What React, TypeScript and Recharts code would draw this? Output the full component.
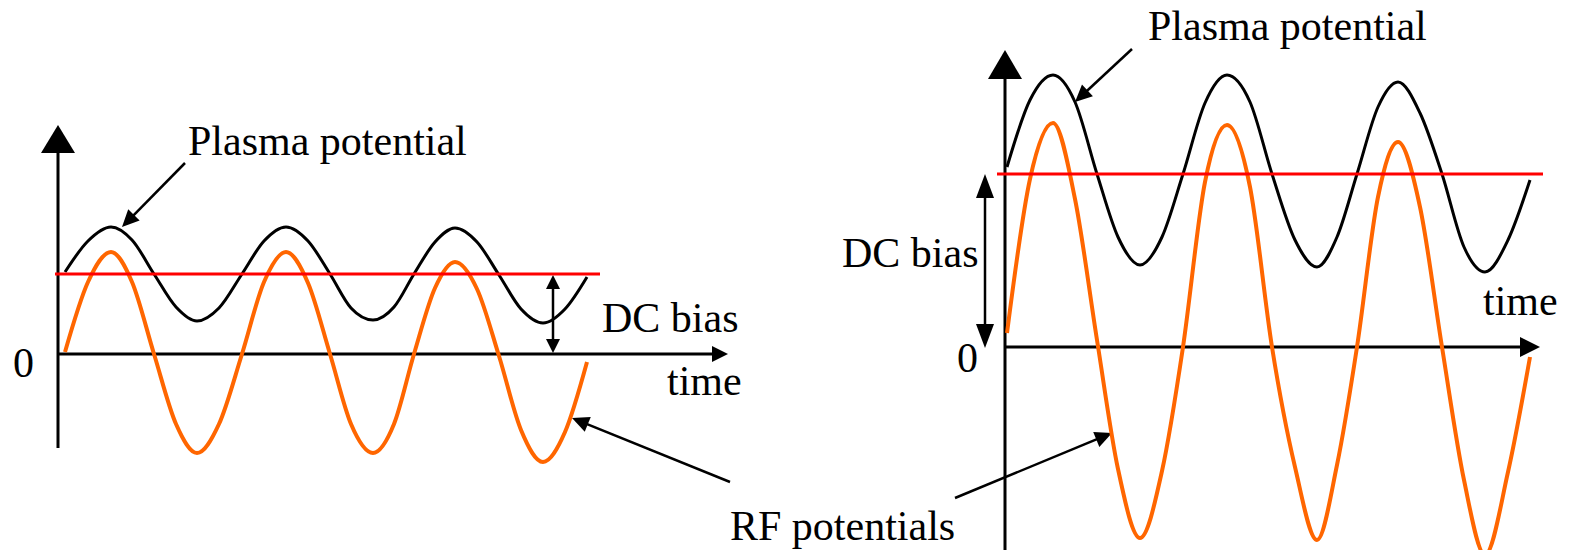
import React from "react";
import { LineChart, Line, XAxis, YAxis, ReferenceLine } from "recharts";

// Left panel: small DC bias. time and potentials (arbitrary units)
const leftTime = [7, 30, 53, 74, 96, 118, 139, 161, 184, 206, 228, 250, 272, 293, 315, 336, 356, 377, 397, 419, 441, 463, 485, 507, 529];
const leftPlasma = [82, 113, 127, 114, 80, 47, 33, 46, 80, 113, 127, 113, 80, 46, 34, 47, 80, 112, 126, 112, 79, 45, 31, 45, 77];
const leftRf = [2, 72, 102, 72, 0, -70, -99, -70, 0, 72, 102, 71, 0, -70, -99, -70, 0, 66, 92, 65, -2, -76, -108, -78, -8];
const leftBias = 80;

// Right panel: large DC bias
const rightTime = [2, 25, 48, 70, 92, 113, 135, 157, 178, 200, 222, 245, 267, 290, 312, 332, 352, 373, 393, 415, 437, 459, 480, 503, 525];
const rightPlasma = [180, 247, 272, 245, 173, 110, 82, 110, 173, 244, 272, 245, 173, 107, 80, 110, 173, 240, 265, 234, 173, 100, 75, 107, 167];
const rightRf = [14, 168, 224, 148, 7, -122, -191, -124, 0, 165, 222, 160, 0, -120, -193, -118, 0, 150, 205, 140, 0, -133, -208, -125, -10];
const rightBias = 173;

const leftData = leftTime.map((t, i) => ({ t, plasma: leftPlasma[i], rf: leftRf[i] }));
const rightData = rightTime.map((t, i) => ({ t, plasma: rightPlasma[i], rf: rightRf[i] }));

const ORANGE = "#ff6600";
const RED = "#ff0000";
const FONT = "'Liberation Serif', 'Times New Roman', serif";

// draws a line with a filled arrow head at the end (and optionally the start)
function arrow(len: number, half: number, both = false) {
  return (p: any) => {
    const { x1, y1, x2, y2, stroke, strokeWidth } = p;
    const dx = x2 - x1;
    const dy = y2 - y1;
    const d = Math.hypot(dx, dy) || 1;
    const ux = dx / d;
    const uy = dy / d;
    const head = (tx: number, ty: number, vx: number, vy: number) => {
      const bx = tx - vx * len;
      const by = ty - vy * len;
      return `${tx},${ty} ${bx - vy * half},${by + vx * half} ${bx + vy * half},${by - vx * half}`;
    };
    const sx = both ? x1 + ux * len * 0.8 : x1;
    const sy = both ? y1 + uy * len * 0.8 : y1;
    return (
      <g>
        <line x1={sx} y1={sy} x2={x2 - ux * len * 0.8} y2={y2 - uy * len * 0.8} stroke={stroke} strokeWidth={strokeWidth} />
        <polygon points={head(x2, y2, ux, uy)} fill={stroke} />
        {both && <polygon points={head(x1, y1, -ux, -uy)} fill={stroke} />}
      </g>
    );
  };
}

function Panel({ data, bias, biasFrom, biasTo, xDomain, yDomain, width, left, children }: any) {
  return (
    <div style={{ position: "absolute", left, top: 0 }}>
      <LineChart width={width} height={558} data={data} margin={{ top: 0, right: 0, bottom: 0, left: 0 }}>
        <XAxis dataKey="t" type="number" domain={xDomain} allowDataOverflow hide />
        <YAxis type="number" domain={yDomain} allowDataOverflow hide />
        {children}
        <Line type="monotone" dataKey="rf" stroke={ORANGE} strokeWidth={4} dot={false} isAnimationActive={false} />
        <Line type="monotone" dataKey="plasma" stroke="#000" strokeWidth={3} dot={false} isAnimationActive={false} />
        <ReferenceLine
          segment={[{ x: biasFrom, y: bias }, { x: biasTo, y: bias }]}
          stroke={RED}
          strokeWidth={3}
          ifOverflow="visible"
        />
      </LineChart>
    </div>
  );
}

export default function App() {
  return (
    <div style={{ position: "relative", width: 1570, height: 558, margin: -8, overflow: "hidden", background: "#fff" }}>
      <Panel data={leftData} bias={leftBias} biasFrom={-3} biasTo={542} xDomain={[-58, 722]} yDomain={[-204, 354]} width={780} left={0}>
        <ReferenceLine segment={[{ x: 0, y: -94 }, { x: 0, y: 229 }]} stroke="#000" strokeWidth={3} ifOverflow="visible" shape={arrow(28, 17)} />
        <ReferenceLine segment={[{ x: 0, y: 0 }, { x: 670, y: 0 }]} stroke="#000" strokeWidth={3} ifOverflow="visible" shape={arrow(16, 8)} />
        <ReferenceLine segment={[{ x: 495, y: 79 }, { x: 495, y: 1 }]} stroke="#000" strokeWidth={2.5} ifOverflow="visible" shape={arrow(14, 7, true)} />
        <ReferenceLine segment={[{ x: 127, y: 191 }, { x: 64, y: 127 }]} stroke="#000" strokeWidth={2.5} ifOverflow="visible" shape={arrow(17, 8)} />
        <ReferenceLine segment={[{ x: 672, y: -128 }, { x: 514, y: -64 }]} stroke="#000" strokeWidth={2.5} ifOverflow="visible" shape={arrow(17, 8)} />
      </Panel>
      <Panel data={rightData} bias={rightBias} biasFrom={-8} biasTo={538} xDomain={[-225, 565]} yDomain={[-211, 347]} width={790} left={780}>
        <ReferenceLine segment={[{ x: 0, y: -203 }, { x: 0, y: 297 }]} stroke="#000" strokeWidth={3} ifOverflow="visible" shape={arrow(29, 17)} />
        <ReferenceLine segment={[{ x: 0, y: 0 }, { x: 535, y: 0 }]} stroke="#000" strokeWidth={3} ifOverflow="visible" shape={arrow(20, 10)} />
        <ReferenceLine segment={[{ x: -20, y: 173 }, { x: -20, y: -1 }]} stroke="#000" strokeWidth={2.5} ifOverflow="visible" shape={arrow(24, 9, true)} />
        <ReferenceLine segment={[{ x: 127, y: 298 }, { x: 70, y: 245 }]} stroke="#000" strokeWidth={2.5} ifOverflow="visible" shape={arrow(17, 8)} />
        <ReferenceLine segment={[{ x: -50, y: -151 }, { x: 107, y: -86 }]} stroke="#000" strokeWidth={2.5} ifOverflow="visible" shape={arrow(17, 8)} />
      </Panel>
      <svg width={1570} height={558} style={{ position: "absolute", left: 0, top: 0, pointerEvents: "none" }}>
        <g fontFamily={FONT} fontSize={42} fill="#000">
          <text x={188} y={155}>Plasma potential</text>
          <text x={602} y={332}>DC bias</text>
          <text x={13} y={377}>0</text>
          <text x={667} y={395}>time</text>
          <text x={1148} y={40}>Plasma potential</text>
          <text x={842} y={267}>DC bias</text>
          <text x={957} y={372}>0</text>
          <text x={1483} y={315}>time</text>
          <text x={730} y={540}>RF potentials</text>
        </g>
      </svg>
    </div>
  );
}
